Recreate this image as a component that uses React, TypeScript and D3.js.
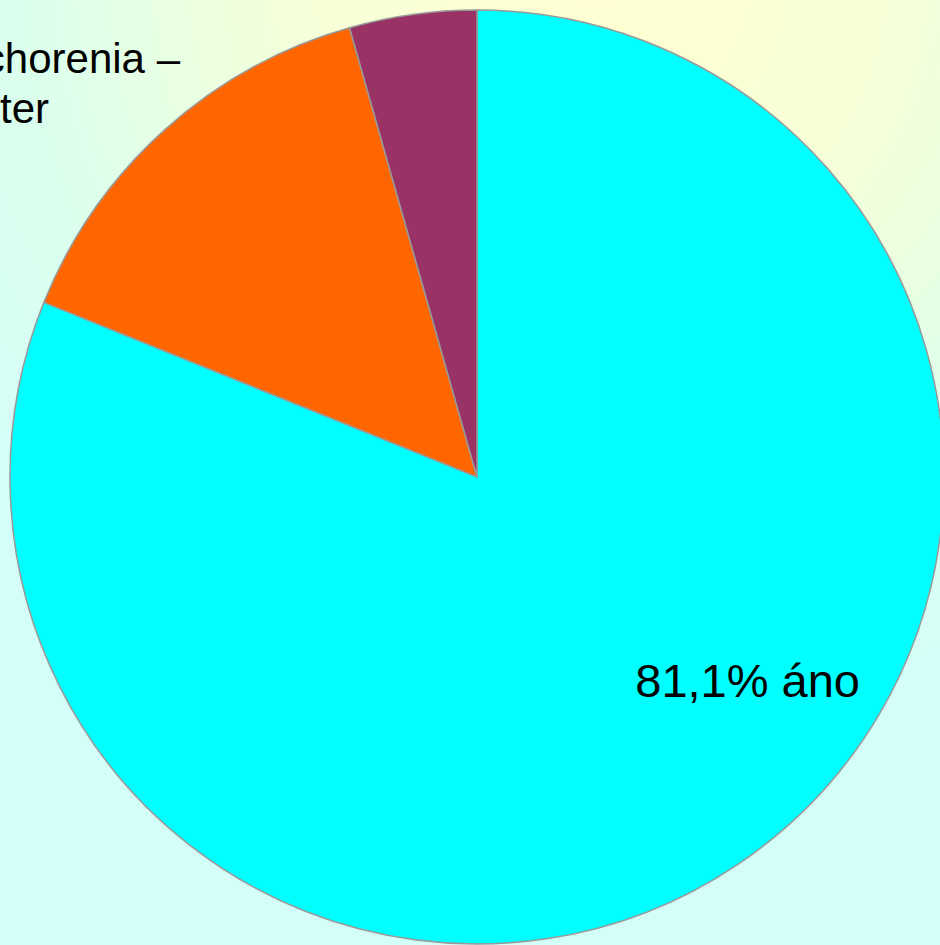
import React from "react";
import * as d3 from "d3";

const categories = ["áno", "orange", "purple"];
const values = [81.1, 14.5, 4.4];
const colors = ["#00FFFF", "#FF6600", "#993366"];
const labelMain = "81,1% áno";
const labelLeft = ["chorenia –", "ter"];

export default function App() {
  const W = 940, H = 945;
  const cx = 477, cy = 477, r = 467;
  const pie = d3.pie<number>().sort(null).value((d) => d)(values);
  const arc = d3.arc<d3.PieArcDatum<number>>().innerRadius(0).outerRadius(r);
  return (
    <svg width={W} height={H} style={{ position: "absolute", left: 0, top: 0 }}>
      <defs>
        <radialGradient id="bg" gradientUnits="userSpaceOnUse" cx={600} cy={-20} r={760}>
          <stop offset="0" stopColor="#FFFFD2" />
          <stop offset="0.35" stopColor="#F8FFD6" />
          <stop offset="0.75" stopColor="#DCFFEC" />
          <stop offset="1" stopColor="#D4FFF8" />
        </radialGradient>
      </defs>
      <rect x={0} y={0} width={W} height={H} fill="url(#bg)" />
      <g transform={`translate(${cx},${cy})`}>
        {pie.map((p, i) => (
          <path key={categories[i]} d={arc(p) || ""} fill={colors[i]} stroke="#999999" strokeWidth={1.5} />
        ))}
      </g>
      <text x={860} y={697} textAnchor="end" fontFamily="Liberation Sans, Arial, sans-serif" fontSize={47} fill="#000">{labelMain}</text>
      <text x={180} y={73} textAnchor="end" fontFamily="Liberation Sans, Arial, sans-serif" fontSize={42} fill="#000">{labelLeft[0]}</text>
      <text x={49} y={123} textAnchor="end" fontFamily="Liberation Sans, Arial, sans-serif" fontSize={42} fill="#000">{labelLeft[1]}</text>
    </svg>
  );
}
